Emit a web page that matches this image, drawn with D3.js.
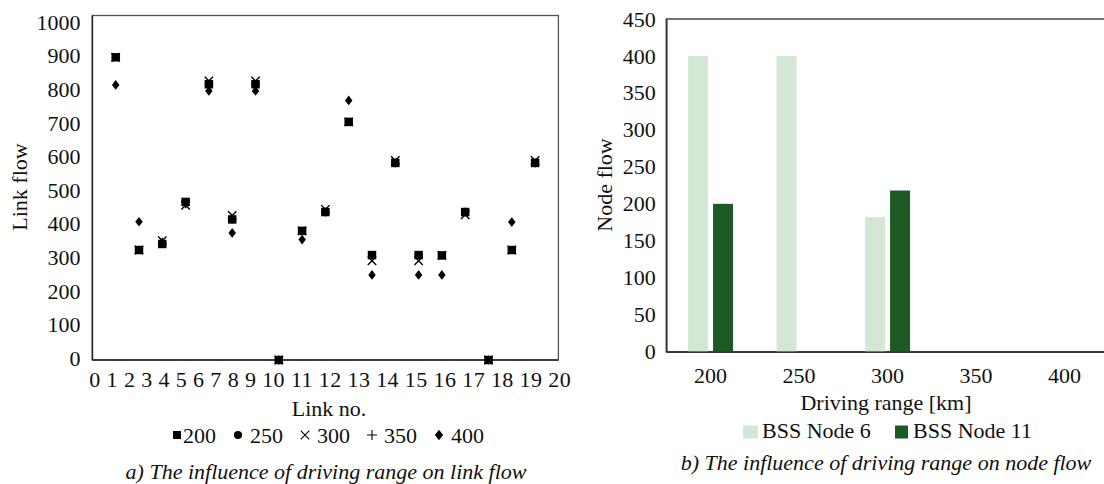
<!DOCTYPE html>
<html>
<head>
<meta charset="utf-8">
<script src="https://cdn.jsdelivr.net/npm/d3@7"></script>
<style>
  body { margin: 0; background: #fff; }
  text { font-family: "Liberation Serif", "Times New Roman", serif; font-size: 22px; fill: #111; }
  .caption { font-style: italic; }
</style>
</head>
<body>
<svg id="chart" width="1104" height="484"></svg>
<script>
// ---------------------------//
//       DATA                 //
// ---------------------------//

// a) link flow per link, one array per driving range
var links = [1, 2, 3, 4, 5, 6, 7, 8, 9, 10, 11, 12, 13, 14, 15, 16, 17, 18, 19]
var flow200 = [900, 327, 345, 470, 820, 418, 820, 0, 384, 440, 708, 312, 586, 312, 311, 440, 0, 327, 586]
var flow250 = [900, 327, 345, 470, 820, 418, 820, 0, 384, 440, 708, 312, 586, 312, 311, 440, 0, 327, 586]
var flow300 = [900, 327, 355, 460, 830, 430, 830, 0, 384, 448, 708, 295, 593, 295, 311, 432, 0, 327, 593]
var flow350 = [900, 327, 345, 470, 820, 418, 820, 0, 384, 440, 708, 312, 586, 312, 311, 440, 0, 327, 586]
var flow400 = [818, 411, 350, 465, 800, 378, 800, 0, 358, 440, 772, 253, 586, 253, 253, 440, 0, 410, 586]
var rangeNames = ["200", "250", "300", "350", "400"]
var yTicksLeft = [0, 100, 200, 300, 400, 500, 600, 700, 800, 900, 1000]
var xTickLabelsLeft = ["0", "1", "2", "3", "4", "5", "6", "7", "8", "9", "10",
                       "11", "12", "13", "14", "15", "16", "17", "18", "19", "20"]

// b) node flow per driving range
var drivingRanges = ["200", "250", "300", "350", "400"]
var nodeNames = ["BSS Node 6", "BSS Node 11"]
var node6 = [400, 400, 182, 0, 0]
var node11 = [200, 0, 218, 0, 0]
var yTicksRight = [0, 50, 100, 150, 200, 250, 300, 350, 400, 450]

var svg = d3.select("#chart")

// ---------------------------//
//       LEFT CHART           //
// ---------------------------//

var xL = d3.scaleLinear().domain([0, 20]).range([92.4, 558.4])
var yL = d3.scaleLinear().domain([0, 1000]).range([360, 23.7])

// plot frame
svg.append("rect")
  .attr("x", 92.4).attr("y", 15.5)
  .attr("width", 466).attr("height", 344.5)
  .attr("fill", "none").attr("stroke", "#555").attr("stroke-width", 1.3)

var yAxisL = svg.append("g")
  .attr("transform", "translate(92.4,0)")
  .call(d3.axisLeft(yL).tickValues(yTicksLeft).tickFormat(d3.format("d")).tickSize(0).tickPadding(12).tickSizeOuter(0))
yAxisL.select(".domain").remove()
yAxisL.selectAll("text").attr("dy", "0.25em").style("font-size", "22px").style("font-family", "Liberation Serif")
svg.append("line")
  .attr("x1", 92.4).attr("x2", 92.4).attr("y1", 15.5).attr("y2", 360)
  .attr("stroke", "#222").attr("stroke-width", 1.5)
svg.append("line")
  .attr("x1", 92.4).attr("x2", 558.4).attr("y1", yL(0)).attr("y2", yL(0))
  .attr("stroke", "#222").attr("stroke-width", 1.5)

// tick labels of the link axis are set as spaced text
svg.append("text")
  .attr("x", 89.3).attr("y", 386.7)
  .attr("textLength", 481.4).attr("lengthAdjust", "spacing")
  .text(xTickLabelsLeft.join(" "))

svg.append("text")
  .attr("text-anchor", "middle")
  .attr("transform", "translate(27,187) rotate(-90)")
  .text("Link flow")

svg.append("text")
  .attr("x", 329).attr("y", 416)
  .attr("text-anchor", "middle")
  .text("Link no.")

// marker shapes
var diamondShape = {
  draw: function (ctx, size) {
    var h = Math.sqrt(size) * 0.6, w = h * 0.78
    ctx.moveTo(0, -h); ctx.lineTo(w, 0); ctx.lineTo(0, h); ctx.lineTo(-w, 0); ctx.closePath()
  }
}
var markerTypes = [
  { type: d3.symbolSquare, size: 72, legSize: 64, fill: "#000", stroke: "none" },
  { type: d3.symbolCircle, size: 45, legSize: 52, fill: "#000", stroke: "none" },
  { type: d3.symbolTimes, size: 48, legSize: 50, fill: "none", stroke: "#000" },
  { type: d3.symbolPlus, size: 18, legSize: 34, fill: "none", stroke: "#000" },
  { type: diamondShape, size: 64, legSize: 80, fill: "#000", stroke: "none" }
]
var seriesL = [flow200, flow250, flow300, flow350, flow400]

seriesL.forEach(function (values, s) {
  var m = markerTypes[s]
  svg.append("g")
    .selectAll("path")
    .data(values)
    .enter()
    .append("path")
      .attr("transform", function (d, i) { return "translate(" + xL(links[i]) + "," + yL(d) + ")" })
      .attr("d", d3.symbol().type(m.type).size(m.size))
      .attr("fill", m.fill)
      .attr("stroke", m.stroke)
      .attr("stroke-width", 1.4)
})

// legend
var legX = 177
rangeNames.forEach(function (name, s) {
  var m = markerTypes[s]
  svg.append("path")
    .attr("transform", "translate(" + legX + ",435)")
    .attr("d", d3.symbol().type(m.type).size(m.legSize))
    .attr("fill", m.fill).attr("stroke", m.stroke).attr("stroke-width", 1.1)
  var off = s == 0 ? 6 : 12
  var t = svg.append("text")
    .attr("x", legX + off).attr("y", 442.7)
    .text(name)
  legX = legX + off + t.node().getComputedTextLength() + 22
})

svg.append("text")
  .attr("class", "caption")
  .attr("x", 326).attr("y", 479)
  .attr("text-anchor", "middle")
  .text("a) The influence of driving range on link flow")

// ---------------------------//
//       RIGHT CHART          //
// ---------------------------//

var x0 = d3.scaleBand().domain(drivingRanges).range([666.3, 1108.8])
var x1 = d3.scaleBand().domain(nodeNames).range([0, x0.bandwidth()]).paddingInner(0.2).paddingOuter(0.87)
var yR = d3.scaleLinear().domain([0, 450]).range([351.7, 19])
var colors = d3.scaleOrdinal().domain(nodeNames).range(["#d3e8d3", "#1e5a24"])

svg.append("rect")
  .attr("x", 666.3).attr("y", 19)
  .attr("width", 442.5).attr("height", 332.7)
  .attr("fill", "none").attr("stroke", "#444").attr("stroke-width", 1.5)

var bars = [node6, node11]
bars.forEach(function (values, s) {
  svg.append("g")
    .selectAll("rect")
    .data(values)
    .enter()
    .append("rect")
      .attr("x", function (d, i) { return x0(drivingRanges[i]) + x1(nodeNames[s]) })
      .attr("y", function (d) { return yR(d) })
      .attr("width", x1.bandwidth())
      .attr("height", function (d) { return yR(0) - yR(d) })
      .attr("fill", colors(nodeNames[s]))
})

var yAxisR = svg.append("g")
  .attr("transform", "translate(666.3,0)")
  .call(d3.axisLeft(yR).tickValues(yTicksRight).tickSize(0).tickPadding(10.5).tickSizeOuter(0))
yAxisR.select(".domain").attr("stroke", "#333").attr("stroke-width", 1.5)
yAxisR.selectAll("text").style("font-size", "22px").style("font-family", "Liberation Serif")

var xAxisR = svg.append("g")
  .attr("transform", "translate(0," + yR(0) + ")")
  .call(d3.axisBottom(x0).tickSize(0).tickPadding(15.5).tickSizeOuter(0))
xAxisR.select(".domain").attr("stroke", "#333").attr("stroke-width", 1.5)
xAxisR.selectAll("text").style("font-size", "22px").style("font-family", "Liberation Serif")

svg.append("text")
  .attr("text-anchor", "middle")
  .attr("transform", "translate(612,185) rotate(-90)")
  .text("Node flow")

svg.append("text")
  .attr("x", 886).attr("y", 410)
  .attr("text-anchor", "middle")
  .text("Driving range [km]")

// legend
var legendR = [{ name: nodeNames[0], sx: 743, sw: 15, tx: 762 }, { name: nodeNames[1], sx: 895, sw: 13, tx: 913 }]
legendR.forEach(function (d) {
  svg.append("rect")
    .attr("x", d.sx).attr("y", 425.5)
    .attr("width", d.sw).attr("height", 13)
    .attr("fill", colors(d.name))
  svg.append("text")
    .attr("x", d.tx).attr("y", 438.3)
    .text(d.name)
})

svg.append("text")
  .attr("class", "caption")
  .attr("x", 886).attr("y", 470)
  .attr("text-anchor", "middle")
  .text("b) The influence of driving range on node flow")
</script>
</body>
</html>
